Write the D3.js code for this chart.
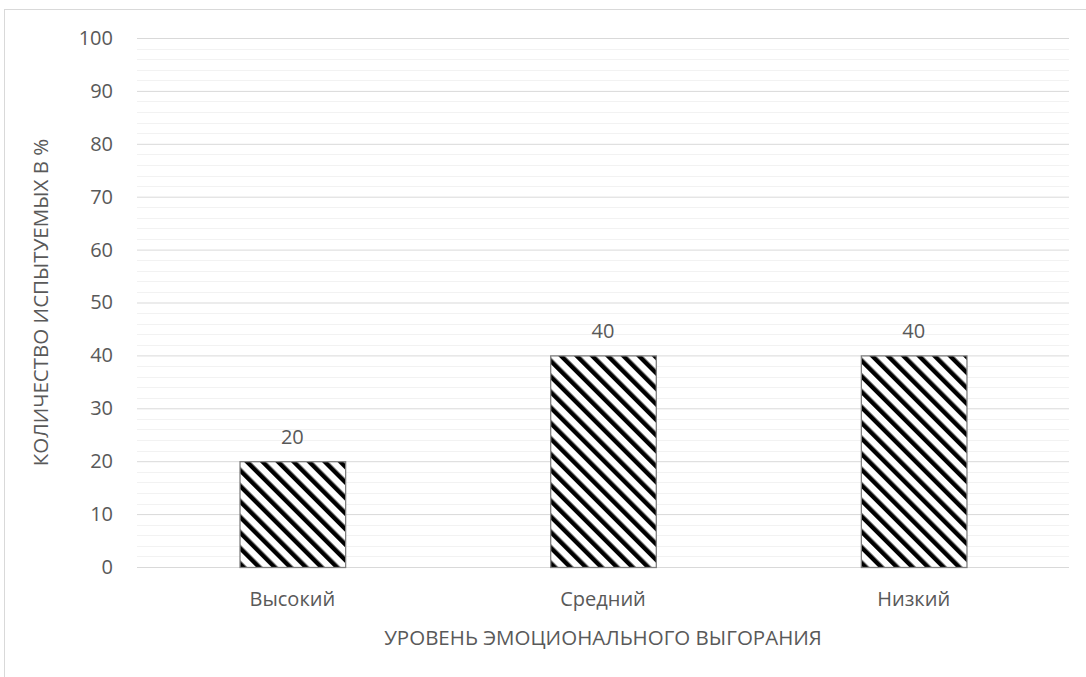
<!DOCTYPE html>
<html>
<head>
<meta charset="utf-8">
<script src="https://cdn.jsdelivr.net/npm/d3@7"></script>
<style>
  body { margin: 0; background: #fff; }
  svg { display: block; font-family: "Open Sans", sans-serif; }
</style>
</head>
<body>
<svg id="chart" width="1086" height="677"></svg>
<script>
// data
var categories = ['Высокий', 'Средний', 'Низкий'];
var values = [20, 40, 40];
var yTicks = [0, 10, 20, 30, 40, 50, 60, 70, 80, 90, 100];
var xTitle = 'УРОВЕНЬ ЭМОЦИОНАЛЬНОГО ВЫГОРАНИЯ';
var yTitle = 'КОЛИЧЕСТВО ИСПЫТУЕМЫХ В %';

var svg = d3.select('#chart');
var textColor = '#595959';

// outer frame of chart area
svg.append('rect')
  .attr('x', 4.5).attr('y', 9.5)
  .attr('width', 1100).attr('height', 700)
  .attr('fill', 'none')
  .attr('stroke', '#d9d9d9');

var plot = { left: 137, right: 1069, top: 38, bottom: 567 };

var x = d3.scaleBand()
  .domain(categories)
  .range([plot.left, plot.right])
  .paddingInner(0.66)
  .paddingOuter(0.33);

var y = d3.scaleLinear()
  .domain([0, 100])
  .range([plot.bottom, plot.top]);

// hatch pattern
var defs = svg.append('defs');
var pat = defs.append('pattern')
  .attr('id', 'hatch')
  .attr('patternUnits', 'userSpaceOnUse')
  .attr('width', 11)
  .attr('height', 11)
  .attr('patternTransform', 'rotate(-45)');
pat.append('rect').attr('width', 11).attr('height', 11).attr('fill', '#fff');
pat.append('rect').attr('x', 0).attr('y', 0).attr('width', 4.5).attr('height', 11).attr('fill', '#000');

// minor gridlines
var minor = d3.range(0, 101, 2).filter(function (d) { return d % 10 !== 0; });
svg.append('g').selectAll('line')
  .data(minor)
  .enter().append('line')
  .attr('x1', plot.left).attr('x2', plot.right)
  .attr('y1', function (d) { return Math.round(y(d)) + 0.5; })
  .attr('y2', function (d) { return Math.round(y(d)) + 0.5; })
  .attr('stroke', '#f2f2f2')
  .attr('stroke-width', 1);

// major gridlines + ticks via axis
var yAxis = d3.axisLeft(y)
  .tickValues(yTicks)
  .tickSize(-(plot.right - plot.left))
  .tickPadding(24);

var gy = svg.append('g')
  .attr('transform', 'translate(' + plot.left + ',0)')
  .call(yAxis);
gy.select('.domain').remove();
gy.selectAll('line').attr('stroke', '#d9d9d9').attr('stroke-width', 1);
gy.selectAll('text')
  .attr('fill', textColor)
  .style('font-size', '20px')
  .style('font-family', '"Open Sans", sans-serif');

// bars
svg.append('g').selectAll('rect')
  .data(values)
  .enter().append('rect')
  .attr('x', function (d, i) { return x(categories[i]) + 0.5; })
  .attr('y', function (d) { return y(d) + 0.5; })
  .attr('width', x.bandwidth())
  .attr('height', function (d) { return y(0) - y(d); })
  .attr('fill', 'url(#hatch)')
  .attr('stroke', '#808080')
  .attr('stroke-width', 1.3);

// value labels
svg.append('g').selectAll('text')
  .data(values)
  .enter().append('text')
  .attr('x', function (d, i) { return x(categories[i]) + x.bandwidth() / 2; })
  .attr('y', function (d) { return y(d) - 17; })
  .attr('text-anchor', 'middle')
  .attr('fill', textColor)
  .style('font-size', '20px')
  .text(function (d) { return d; });

// x axis
var xAxis = d3.axisBottom(x).tickSize(0).tickPadding(25);
var gx = svg.append('g')
  .attr('transform', 'translate(0,' + plot.bottom + ')')
  .call(xAxis);
gx.select('.domain').remove();
gx.selectAll('text')
  .attr('fill', textColor)
  .style('font-size', '20px')
  .style('font-family', '"Open Sans", sans-serif');

// axis titles
svg.append('text')
  .attr('x', (plot.left + plot.right) / 2)
  .attr('y', 645)
  .attr('text-anchor', 'middle')
  .attr('fill', textColor)
  .style('font-size', '20.5px')
  .text(xTitle);

svg.append('text')
  .attr('transform', 'translate(48,' + (plot.top + plot.bottom) / 2 + ') rotate(-90)')
  .attr('text-anchor', 'middle')
  .attr('fill', textColor)
  .style('font-size', '20.5px')
  .text(yTitle);
</script>
</body>
</html>
